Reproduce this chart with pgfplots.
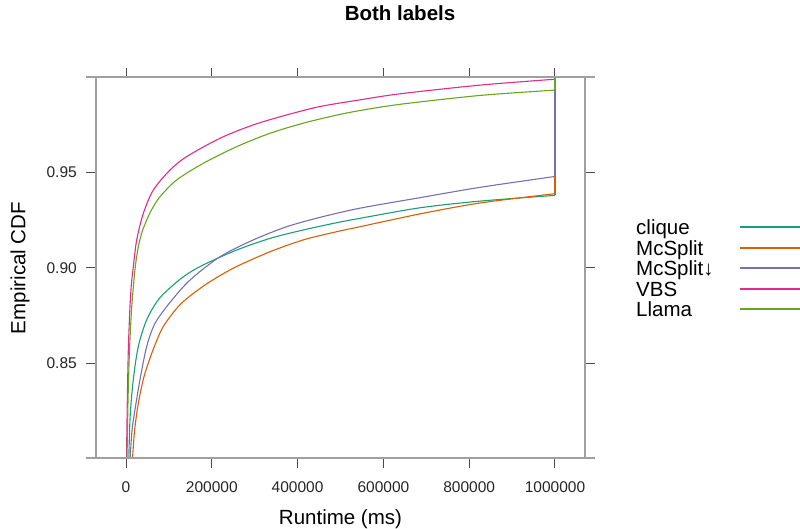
\documentclass[border=0pt]{standalone}
\usepackage{fontspec}
\setmainfont{Liberation Sans}
\usepackage{pgfplots}
\pgfplotsset{compat=1.18}

\definecolor{cclique}{HTML}{1B9E77}
\definecolor{cmcsplit}{HTML}{D95F02}
\definecolor{cmcsplitd}{HTML}{7570B3}
\definecolor{cvbs}{HTML}{E7298A}
\definecolor{cllama}{HTML}{66A61E}
\definecolor{framegray}{HTML}{A0A0A0}

\begin{document}
\begin{tikzpicture}
\path[use as bounding box] (0,0) rectangle (800pt,529pt);
\begin{axis}[name=ax,
  at={(96pt,70.5pt)}, anchor=south west,
  scale only axis, width=489pt, height=381pt,
  xmin=-70000, xmax=1070000, ymin=0.8003, ymax=0.9997,
  axis line style={draw=none},
  tick align=outside, tick pos=both,
  major tick length=9.5pt,
  major tick style={draw=black!70, line width=1pt},
  scaled x ticks=false,
  xtick={0,200000,400000,600000,800000,1000000},
  xticklabels={0,200000,400000,600000,800000,1000000},
  ytick={0.85,0.90,0.95},
  yticklabels={0.85,0.90,0.95},
  /pgf/number format/assume math mode=true,
  tick label style={font=\fontsize{15.5}{15.5}\selectfont, text=black!85},
  yticklabel style={inner sep=0pt, xshift=-9.5pt},
  xticklabel style={inner sep=0pt, yshift=-13pt},
  xlabel={Runtime (ms)}, ylabel={Empirical CDF},
  every axis x label/.style={at={(axis description cs:0.5,0)}, anchor=center, yshift=-60.5pt, font=\fontsize{20.5}{20.5}\selectfont},
  every axis y label/.style={at={([xshift=-76pt]axis description cs:0,0.5)}, anchor=center, rotate=90, font=\fontsize{20.5}{20.5}\selectfont},
  title={Both labels},
  title style={font=\bfseries\fontsize{20.5}{20.5}\selectfont, at={(axis description cs:0.6217,1)}, anchor=center, yshift=58.5pt},
  legend plot pos=right,
  legend cell align=left,
  legend image code/.code={\draw[#1, line width=1.8pt, line cap=butt] (0pt,2.5pt) -- (61pt,2.5pt);},
  legend style={at={(axis description cs:1.1043,0.6278)}, anchor=north west,
    draw=none, fill=none, inner sep=0pt, column sep=25pt, row sep=0pt,
    font=\fontsize{20.5}{20.5}\selectfont,
    nodes={inner sep=0pt, text height=15pt, text depth=5.5pt}},
  every axis plot/.append style={line width=1.1pt, smooth, tension=0.5},
]
% clique
\addplot[color=cclique] coordinates {
(5500,0.79) (9300,0.821) (17000,0.8416) (28700,0.859) (48300,0.8729)
(79300,0.8845) (133570,0.8954) (180190,0.9016) (258040,0.9094) (335660,0.9155)
(413290,0.9199) (491140,0.9237) (545450,0.926) (685000,0.9315) (825000,0.935)
(1000000,0.938)};
% McSplit
\addplot[color=cmcsplit] coordinates {
(12500,0.79) (15000,0.80) (20000,0.815) (27000,0.827) (35000,0.8365)
(44300,0.845) (63600,0.8575) (86900,0.8694) (125900,0.8808) (172500,0.8893)
(211420,0.895) (258040,0.9008) (335660,0.9085) (413290,0.9147) (491140,0.919)
(545450,0.9216) (685000,0.9283) (825000,0.934) (1000000,0.9389)};
% McSplit down
\addplot[color=cmcsplitd] coordinates {
(8000,0.79) (9500,0.80) (14000,0.815) (21000,0.826) (32600,0.8416)
(48300,0.859) (67600,0.871) (102600,0.882) (149200,0.8937) (219100,0.9059)
(296740,0.9147) (374590,0.9216) (452210,0.9265) (545450,0.9313) (685000,0.9368)
(825000,0.9422) (1000000,0.9479)};
% VBS
\addplot[color=cvbs] coordinates {
(900,0.79) (1170,0.80) (3030,0.8309) (5360,0.8571) (8860,0.878)
(12350,0.8911) (17020,0.9007) (24940,0.9147) (40330,0.9286) (63640,0.9408)
(102560,0.9513) (141490,0.9583) (219110,0.9679) (296740,0.9749) (374590,0.9801)
(452210,0.9845) (545450,0.988) (640000,0.9912) (825000,0.9957) (1000000,0.9988)};
% Llama
\addplot[color=cllama] coordinates {
(2000,0.79) (2330,0.80) (4660,0.8309) (8160,0.8571) (12820,0.878)
(17480,0.8911) (22140,0.9016) (28670,0.9111) (37300,0.9188) (48250,0.9251)
(60610,0.9309) (79250,0.9373) (118200,0.9461) (180200,0.9548) (258000,0.9635)
(335700,0.9705) (413300,0.9758) (491100,0.98) (545500,0.9824) (640000,0.9857)
(825000,0.9903) (1000000,0.9931)};
\legend{clique,McSplit,McSplit↓,VBS,Llama}
% final jumps of each ECDF at the 1000000 ms timeout
\addplot[color=cclique, forget plot, sharp plot] coordinates {(1000000,0.938) (1000000,1.0)};
\addplot[color=cmcsplit, forget plot, sharp plot] coordinates {(1000000,0.9389) (1000000,1.0)};
\addplot[color=cmcsplitd, forget plot, sharp plot] coordinates {(1000000,0.9479) (1000000,1.0)};
\addplot[color=cvbs, forget plot, sharp plot] coordinates {(1000000,0.9988) (1000000,1.0)};
\addplot[color=cllama, forget plot, sharp plot] coordinates {(1000000,0.9931) (1000000,1.0)};
\end{axis}
\draw[framegray, line width=2pt] ([xshift=-10pt]ax.north west) -- ([xshift=10pt]ax.north east);
\draw[framegray, line width=2pt] ([xshift=-10pt]ax.south west) -- ([xshift=10pt]ax.south east);
\draw[framegray, line width=2pt] (ax.south west) -- (ax.north west);
\draw[framegray, line width=2pt] (ax.south east) -- (ax.north east);
\end{tikzpicture}
\end{document}
